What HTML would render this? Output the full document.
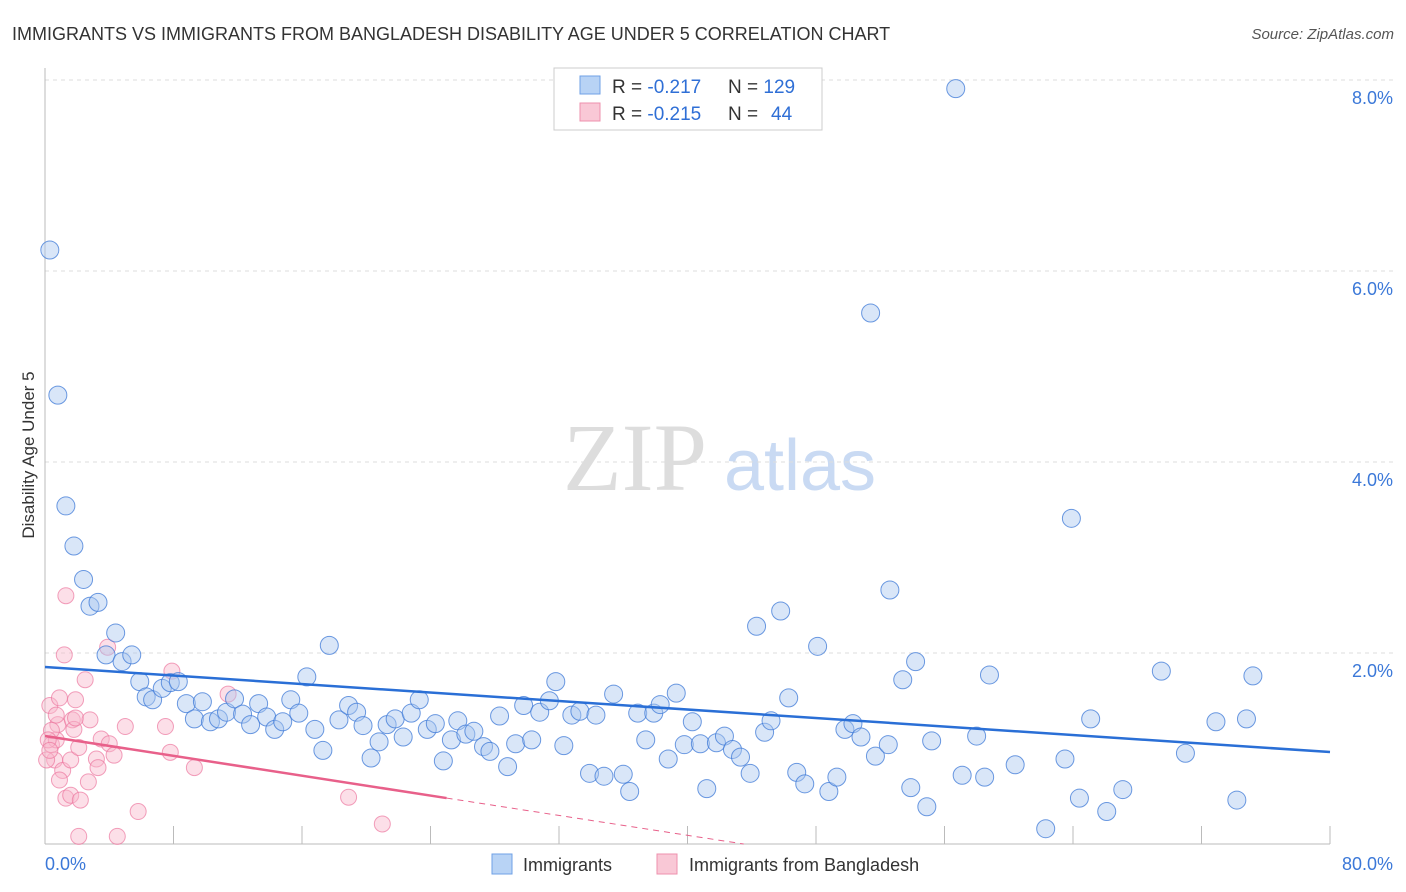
<!DOCTYPE html>
<html><head><meta charset="utf-8"><style>
body{margin:0;background:#fff;font-family:"Liberation Sans",sans-serif}
svg{display:block}
</style></head><body>
<svg id="chart" width="1406" height="892">
<text x="12" y="40" font-size="18" fill="#333">IMMIGRANTS VS IMMIGRANTS FROM BANGLADESH DISABILITY AGE UNDER 5 CORRELATION CHART</text>
<text x="1394" y="39" font-size="15" fill="#555" text-anchor="end" font-style="italic">Source: ZipAtlas.com</text>
<text transform="translate(34,455) rotate(-90)" font-size="17" fill="#333" text-anchor="middle">Disability Age Under 5</text>
<g>
<text x="635" y="490" font-size="96" fill="#ddd" text-anchor="middle" font-family="Liberation Serif,serif">ZIP</text>
<text x="800" y="490" font-size="72" fill="#c9daf3" text-anchor="middle">atlas</text>
</g>
<g id="grid"></g><g id="axes"></g><g id="pink"></g><g id="blue"></g><g id="lines"></g>
<g>
<rect x="554" y="68" width="268" height="62" fill="#fff" stroke="#ccc"/>
<rect x="580" y="76" width="20" height="18" fill="#b8d3f5" stroke="#6fa0e6"/>
<rect x="580" y="103" width="20" height="18" fill="#f9c8d6" stroke="#ee90ad"/>
<text x="612" y="93" font-size="19" fill="#333">R = <tspan fill="#2f6fd6">-0.217</tspan><tspan x="728">N = </tspan><tspan fill="#2f6fd6">129</tspan></text>
<text x="612" y="120" font-size="19" fill="#333">R = <tspan fill="#2f6fd6">-0.215</tspan><tspan x="728">N = </tspan><tspan fill="#2f6fd6" x="771">44</tspan></text>
</g>
<g>
<rect x="492" y="854" width="20" height="20" fill="#b8d3f5" stroke="#6fa0e6"/>
<text x="523" y="871" font-size="18" fill="#333">Immigrants</text>
<rect x="657" y="854" width="20" height="20" fill="#f9c8d6" stroke="#ee90ad"/>
<text x="689" y="871" font-size="18" fill="#333">Immigrants from Bangladesh</text>
</g>
</svg>
<script>
const blueX=[0.3,0.8,1.3,1.8,2.4,2.8,3.3,4.4,3.8,4.8,5.4,5.9,6.3,6.7,7.3,7.8,8.3,8.8,9.3,9.8,10.3,10.8,11.3,11.8,12.3,12.8,13.3,13.8,14.3,14.8,15.3,15.8,16.3,16.8,17.3,17.7,18.3,18.9,19.4,19.8,20.3,20.8,21.3,21.8,22.3,22.8,23.3,23.8,24.3,24.8,25.3,25.7,26.2,26.7,27.3,27.7,28.3,28.8,29.3,29.8,30.3,30.8,31.4,31.8,32.3,32.8,33.3,33.9,34.3,34.8,35.4,36.0,36.4,36.9,37.4,37.9,38.3,38.8,39.3,39.8,40.3,40.8,41.2,41.8,42.3,42.8,43.3,43.9,44.3,44.8,45.2,45.8,46.3,46.8,47.3,48.1,48.8,49.3,49.8,50.3,50.8,51.4,51.7,52.5,52.6,53.4,53.9,54.2,54.9,55.2,56.7,57.1,58.0,58.5,58.8,60.4,62.3,63.5,63.9,64.4,65.1,66.1,67.1,69.5,71.0,72.9,74.2,74.8,75.2];
const blueY=[6.22,4.70,3.54,3.12,2.77,2.49,2.53,2.21,1.98,1.91,1.98,1.70,1.54,1.51,1.63,1.69,1.70,1.47,1.31,1.49,1.28,1.31,1.38,1.52,1.36,1.25,1.47,1.33,1.20,1.28,1.51,1.37,1.75,1.20,0.98,2.08,1.30,1.45,1.38,1.24,0.90,1.07,1.25,1.31,1.12,1.37,1.51,1.20,1.26,0.87,1.09,1.29,1.15,1.18,1.02,0.97,1.34,0.81,1.05,1.45,1.09,1.38,1.50,1.70,1.03,1.35,1.39,0.74,1.35,0.71,1.57,0.73,0.55,1.37,1.09,1.37,1.46,0.89,1.58,1.04,1.28,1.05,0.58,1.06,1.13,0.99,0.91,0.74,2.28,1.17,1.29,2.44,1.53,0.75,0.63,2.07,0.55,0.70,1.20,1.26,1.12,5.56,0.92,1.04,2.66,1.72,0.59,1.91,0.39,1.08,7.91,0.72,1.13,0.70,1.77,0.83,0.16,0.89,3.41,0.48,1.31,0.34,0.57,1.81,0.95,1.28,0.46,1.31,1.76];
const pinkX=[0.3,0.4,0.6,0.7,0.8,0.4,0.9,1.1,1.2,1.3,1.3,1.6,1.6,1.7,1.8,1.9,2.2,2.1,2.5,2.7,3.2,3.3,3.5,3.9,4.0,4.3,5.0,5.8,7.5,7.8,7.9,9.3,11.4,18.9,21.0,2.1,4.5,0.1,0.2,0.7,0.9,2.8,0.3,1.9];
const pinkY=[1.45,1.04,0.88,1.09,1.25,1.19,1.53,0.77,1.98,2.60,0.48,0.51,0.88,1.30,1.20,1.32,0.46,1.01,1.72,0.65,0.89,0.80,1.10,2.06,1.05,0.93,1.23,0.34,1.23,0.96,1.81,0.80,1.57,0.49,0.21,0.08,0.08,0.88,1.09,1.35,0.67,1.30,0.98,1.51];
const yTicks=[2,4,6,8];
const yTickLabels=["2.0%","4.0%","6.0%","8.0%"];
const xTickLabels=["0.0%","80.0%"];
const blueTrend=[1.853,0.963];
const pinkTrend=[1.131,-0.026];
const NS="http://www.w3.org/2000/svg";
const X=v=>45+v/80*1285, Y=v=>844-v*95.5;
function mk(p,tag,at){const e=document.createElementNS(NS,tag);for(const k in at)e.setAttribute(k,at[k]);document.getElementById(p).appendChild(e);return e;}
yTicks.forEach((t,i)=>{
 const g=mk('grid','line',{x1:45,x2:1395,y1:Y(t),y2:Y(t),stroke:'#ddd','stroke-dasharray':'4,4'});
 
 
 const l=mk('grid','text',{x:1393,y:Y(t)+24,'font-size':18,fill:'#3b78d8','text-anchor':'end'});l.textContent=yTickLabels[i];
 
 
});
const ax=mk('axes','line',{x1:45,x2:45,y1:68,y2:844,stroke:'#bbb'});


const bx=mk('axes','line',{x1:45,x2:1330,y1:844,y2:844,stroke:'#bbb'});


for(let i=1;i<=10;i++){const t=mk('axes','line',{x1:X(i*8),x2:X(i*8),y1:826,y2:844,stroke:'#bbb'});
 
 }
[[0,45,'start'],[80,1393,'end']].forEach((d,i)=>{const t=mk('axes','text',{x:d[1],y:870,'font-size':18,fill:'#3b78d8','text-anchor':d[2]});t.textContent=xTickLabels[i];
 
 });
pinkX.forEach((x,i)=>{const c=mk('pink','circle',{cx:X(x),cy:Y(pinkY[i]),r:8,fill:'rgba(248,185,205,0.45)',stroke:'rgba(236,120,160,0.7)','stroke-width':1});
 
 });
blueX.forEach((x,i)=>{const c=mk('blue','circle',{cx:X(x),cy:Y(blueY[i]),r:9,fill:'rgba(170,200,240,0.45)',stroke:'rgba(60,120,215,0.75)','stroke-width':1});
 
 });
const bl=mk('lines','line',{x1:X(0),y1:Y(blueTrend[0]),x2:X(80),y2:Y(blueTrend[1]),stroke:'#2a6fd6','stroke-width':2.5});


const pe=-pinkTrend[0]/pinkTrend[1];
const ps=mk('lines','line',{x1:X(0),y1:Y(pinkTrend[0]),x2:X(25),y2:Y(pinkTrend[0]+25*pinkTrend[1]),stroke:'#e8608a','stroke-width':2.5});


const pd=mk('lines','line',{x1:X(25),y1:Y(pinkTrend[0]+25*pinkTrend[1]),x2:X(pe),y2:Y(0),stroke:'#e8608a','stroke-width':1,'stroke-dasharray':'6,5'});


</script>
</body></html>
